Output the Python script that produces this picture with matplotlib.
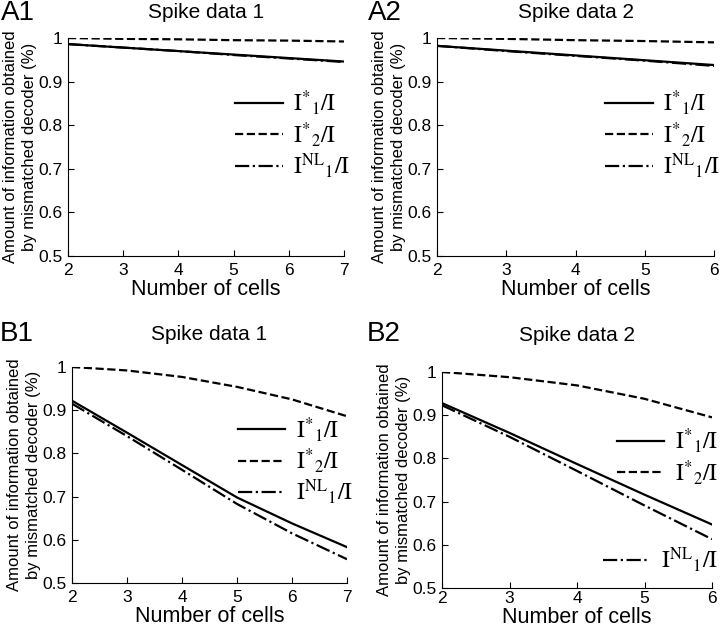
import matplotlib
matplotlib.use('Agg')
import matplotlib.pyplot as plt
from matplotlib.lines import Line2D

plt.rcParams['font.family'] = ['Liberation Sans', 'DejaVu Sans']
plt.rcParams['mathtext.fontset'] = 'stix'

# data
cells_1 = [2, 3, 4, 5, 6, 7]
cells_2 = [2, 3, 4, 5, 6]

a1_star1 = [0.986, 0.978, 0.970, 0.962, 0.954, 0.946]
a1_star2 = [1.000, 0.998, 0.997, 0.995, 0.994, 0.992]
a1_nl1 = [0.986, 0.978, 0.970, 0.961, 0.953, 0.945]

a2_star1 = [0.982, 0.971, 0.960, 0.949, 0.938]
a2_star2 = [1.000, 0.998, 0.995, 0.993, 0.990]
a2_nl1 = [0.982, 0.970, 0.959, 0.948, 0.936]

b1_star1 = [0.922, 0.848, 0.773, 0.698, 0.638, 0.583]
b1_star2 = [1.000, 0.992, 0.977, 0.954, 0.925, 0.886]
b1_nl1 = [0.915, 0.840, 0.762, 0.683, 0.615, 0.555]

b2_star1 = [0.928, 0.859, 0.787, 0.716, 0.647]
b2_star2 = [1.000, 0.988, 0.969, 0.938, 0.895]
b2_nl1 = [0.923, 0.850, 0.771, 0.691, 0.613]

yticks = [0.5, 0.6, 0.7, 0.8, 0.9, 1.0]
ytick_labels = ['0.5', '0.6', '0.7', '0.8', '0.9', '1']

labels = [r'$\mathrm{I}^{*}{}_{1}/\mathrm{I}$',
          r'$\mathrm{I}^{*}{}_{2}/\mathrm{I}$',
          r'$\mathrm{I}^{\mathrm{NL}}{}_{1}/\mathrm{I}$']
styles = ['-', '--', '-.']

W, H = 720, 632
fig = plt.figure(figsize=(7.2, 6.32), dpi=100)


def add_axes(l, r, t, b):
    return fig.add_axes([l / W, (H - b) / H, (r - l) / W, (b - t) / H])


def panel(ax, x, series, title, xpad, title_y, leg_top, split_at=None):
    for y, ls in zip(series, styles):
        ax.plot(x, y, ls, color='black', lw=1.6)
    ax.set_xlim(x[0], x[-1])
    ax.set_ylim(0.5, 1.0)
    ax.set_xticks(x)
    ax.set_yticks(yticks)
    ax.set_yticklabels(ytick_labels)
    for s in ['top', 'right']:
        ax.spines[s].set_visible(False)
    ax.spines['left'].set_linewidth(0.8)
    ax.spines['bottom'].set_linewidth(0.8)
    ax.tick_params(direction='in', length=4, width=0.8, labelsize=12.5)
    ax.tick_params(axis='y', pad=4)
    ax.tick_params(axis='x', pad=xpad)
    ax.set_xlabel('Number of cells', fontsize=15.5, labelpad=1)
    ax.set_ylabel('Amount of information obtained\nby mismatched decoder (%)',
                  fontsize=12, labelpad=1, linespacing=1.3)
    ax.text(0.5, title_y, title, transform=ax.transAxes, fontsize=15,
            ha='center', va='center')
    handles = [Line2D([], [], color='black', lw=1.6, linestyle=ls) for ls in styles]
    kw = dict(frameon=False, fontsize=17, handlelength=2.0, handletextpad=0.45,
              labelspacing=0.1, borderaxespad=0.0, borderpad=0.2,
              loc='upper right')
    if split_at is not None:
        leg2 = ax.legend(handles[2:], labels[2:],
                         bbox_to_anchor=(1.04, split_at), **kw)
        ax.add_artist(leg2)
        ax.legend(handles[:2], labels[:2], bbox_to_anchor=(1.04, leg_top), **kw)
    else:
        ax.legend(handles, labels, bbox_to_anchor=(1.04, leg_top), **kw)


ax_a1 = add_axes(68, 344, 38, 256)
panel(ax_a1, cells_1, [a1_star1, a1_star2, a1_nl1], 'Spike data 1', 5, 1.115, 0.79)

ax_a2 = add_axes(437, 714, 38, 256)
panel(ax_a2, cells_2, [a2_star1, a2_star2, a2_nl1], 'Spike data 2', 5, 1.115, 0.79)

ax_b1 = add_axes(72, 347, 367, 583)
panel(ax_b1, cells_1, [b1_star1, b1_star2, b1_nl1], 'Spike data 1', 5, 1.15, 0.80)

ax_b2 = add_axes(442, 712, 372, 588)
panel(ax_b2, cells_2, [b2_star1, b2_star2, b2_nl1], 'Spike data 2', 2, 1.17, 0.77,
      split_at=0.22)

# panel tags, baselines
for tag, px, py in [('A1', 1, 20), ('A2', 368, 20), ('B1', 0, 341), ('B2', 367, 341)]:
    fig.text(px / W, (H - py) / H, tag, fontsize=20, va='baseline', ha='left')

fig.savefig('out.png', dpi=100)
